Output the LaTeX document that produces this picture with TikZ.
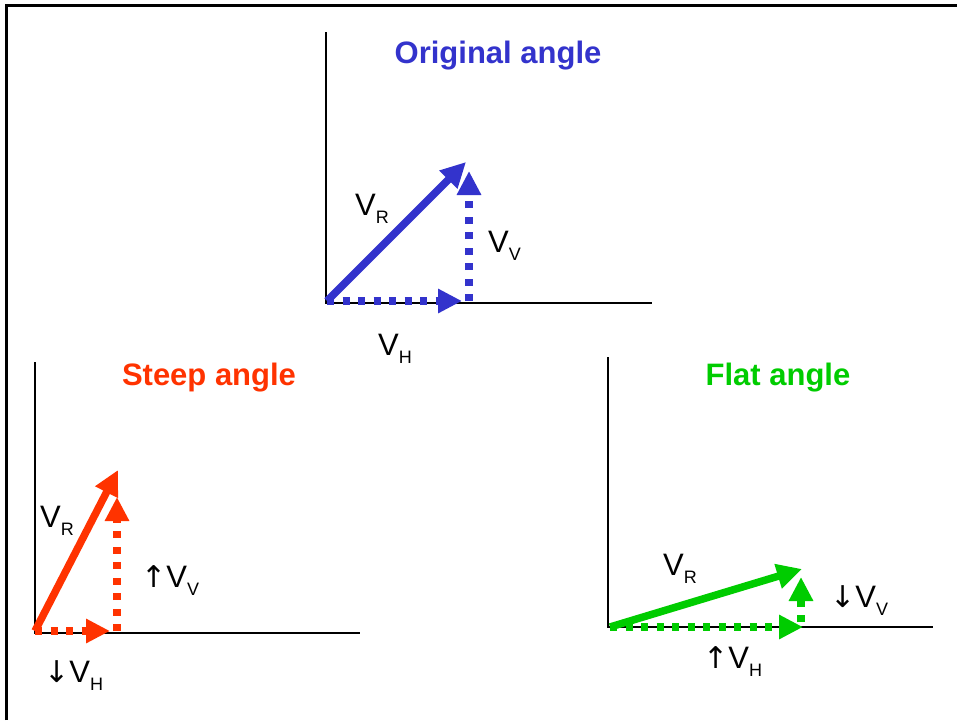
\documentclass[tikz,border=0pt]{standalone}
\usepackage{fontspec}
\setmainfont{Liberation Sans}
\newfontfamily\arrowfont{DejaVu Sans}
\usepackage{xcolor}
\definecolor{orig-blue}{RGB}{51, 51, 204}
\definecolor{steep-red}{RGB}{255, 51, 0}
\definecolor{flat-green}{RGB}{0, 204, 0}
\usetikzlibrary{arrows.meta, positioning}
\newcommand{\vsub}[1]{V\raisebox{-8pt}{\fontsize{18}{18}\selectfont #1}}
\newcommand{\upar}{{\arrowfont\fontsize{30}{30}\selectfont ↑}}
\newcommand{\dnar}{{\arrowfont\fontsize{30}{30}\selectfont ↓}}

\begin{document}
\begin{tikzpicture}[
  x=1pt, y=-1pt,
  frame/.style={line width=3pt, black},
  axis/.style={line width=2.5pt, black},
  res/.style={line width=7.5pt, -{Triangle[length=25pt, width=24pt]}},
  comp/.style={line width=7.5pt, dash pattern=on 7pt off 8.5pt,
               -{Triangle[length=24pt, width=23pt]}},
  title/.style={font=\fontsize{31}{36}\selectfont\bfseries, anchor=base, inner sep=0pt},
  lbl/.style={font=\fontsize{31}{36}\selectfont, anchor=base west, inner sep=0pt},
]
\useasboundingbox (0,0) rectangle (957,720);

% Rahmen
\draw[frame] (6.5,720) -- (6.5,5) -- (957,5);

% Originalwinkel (oben)
\coordinate (o1) at (327,301);
\coordinate (r1) at (466,162);
\coordinate (v1b) at (469,301);
\coordinate (v1) at (469,171);
\coordinate (h1) at (462,301);
\draw[axis] (326,32) -- (326,303) -- (652,303);
\draw[res, orig-blue] (o1) -- (r1);
\draw[comp, orig-blue] (v1b) -- (v1);
\draw[comp, orig-blue] (o1) -- (h1);
\node[title, orig-blue] (t1) at (498,63) {Original angle};
\node[lbl] (lr1) at (355,215) {\vsub{R}};
\node[lbl] (lv1) at (488,252) {\vsub{V}};
\node[lbl] (lh1) at (378,355) {\vsub{H}};

% steiler Winkel (links)
\coordinate (o2) at (35,631);
\coordinate (r2) at (118,470);
\coordinate (v2b) at (117,631);
\coordinate (v2) at (117,497);
\coordinate (h2) at (110,631);
\draw[axis] (35,362) -- (35,633) -- (360,633);
\draw[res, steep-red] (o2) -- (r2);
\draw[comp, steep-red] (v2b) -- (v2);
\draw[comp, steep-red] (o2) -- (h2);
\node[title, steep-red] (t2) at (209,385) {Steep angle};
\node[lbl] (lr2) at (40,527) {\vsub{R}};
\node[lbl] (lv2) at (141,587) {\upar\vsub{V}};
\node[lbl] (lh2) at (44,682) {\dnar\vsub{H}};

% flacher Winkel (rechts)
\coordinate (o3) at (610,627);
\coordinate (r3) at (802,569);
\coordinate (v3b) at (801,622);
\coordinate (v3) at (801,577);
\coordinate (h3) at (803,627);
\draw[axis] (608,357) -- (608,627) -- (933,627);
\draw[res, flat-green] (o3) -- (r3);
\draw[comp, flat-green] (v3b) -- (v3);
\draw[comp, flat-green] (o3) -- (h3);
\node[title, flat-green] (t3) at (778,385) {Flat angle};
\node[lbl] (lr3) at (663,575) {\vsub{R}};
\node[lbl] (lv3) at (830,607) {\dnar\vsub{V}};
\node[lbl] (lh3) at (703,668) {\upar\vsub{H}};

\end{tikzpicture}
\end{document}
